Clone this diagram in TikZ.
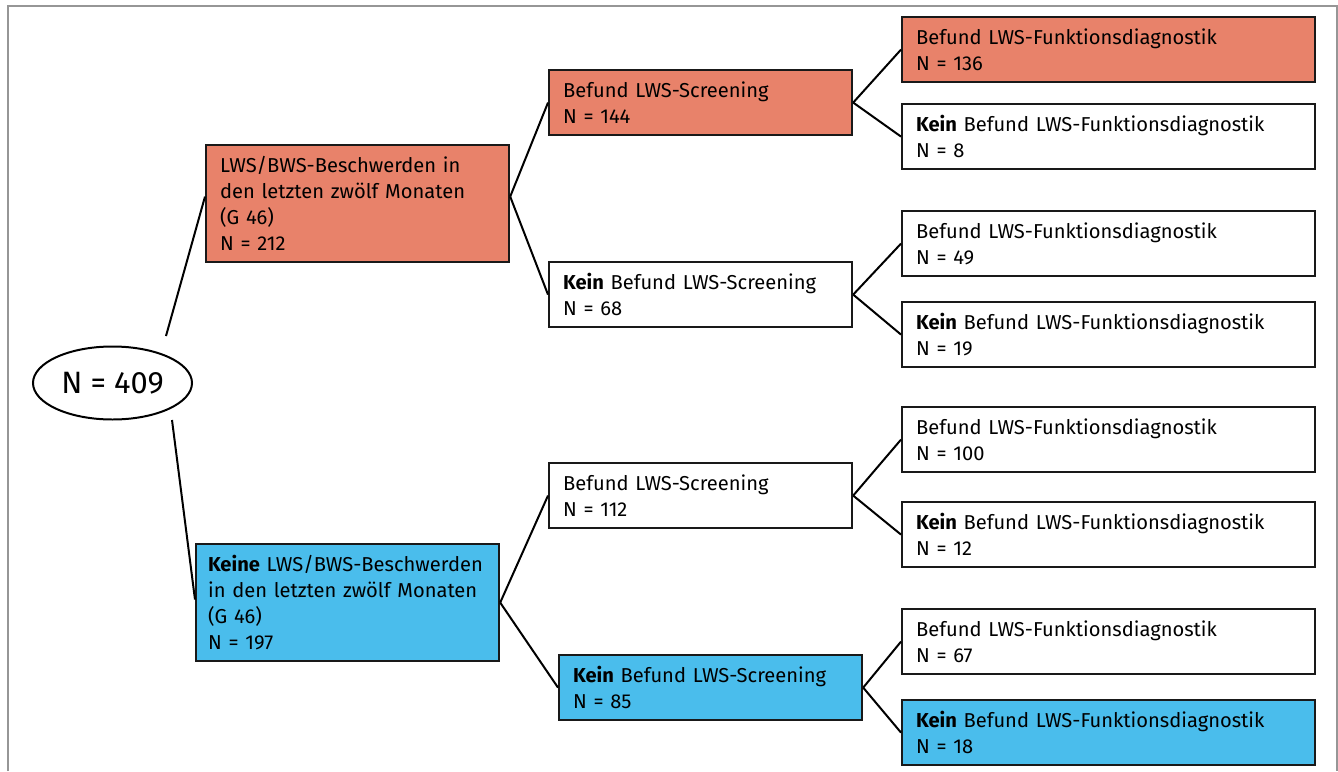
\documentclass[tikz,border=0pt]{standalone}
\usepackage{fontspec}
\setmainfont{Fira Sans}
\usetikzlibrary{shapes.geometric}
\definecolor{lwsred}{RGB}{232,130,106}
\definecolor{lwsblue}{RGB}{74,189,236}
\definecolor{framegray}{RGB}{150,150,150}
\begin{document}
\begin{tikzpicture}[x=1bp,y=-1bp,
  box/.style={draw=black!90, line width=2.2pt, inner xsep=14bp, inner ysep=0pt,
    align=left, anchor=north west, font=\fontsize{20.2}{26}\selectfont},
  leftbox/.style={box, text width=275bp, minimum height=117bp},
  midbox/.style={box, text width=275bp, minimum height=65bp},
  rightbox/.style={box, text width=385bp, minimum height=65bp},
  conn/.style={line width=2pt, black},
  frame/.style={framegray, line width=1.5pt}]
\useasboundingbox (0,0) rectangle (1338,771);
\draw[frame] (8,771) -- (8,6) -- (1337,6) -- (1337,771);

\node[draw, ellipse, line width=2pt, minimum width=159bp, minimum height=73bp,
  inner sep=0pt, font=\fontsize{31}{33}\selectfont] (root) at (112.5,383) {N = 409};
\coordinate (ru) at (166,336);
\coordinate (rd) at (172,420);

\node[leftbox, fill=lwsred] (l1) at (205,144) {LWS/BWS-Beschwerden in\\den letzten zwölf Monaten\\(G 46)\\N = 212};
\node[leftbox, fill=lwsblue, inner xsep=12bp, text width=279bp] (l2) at (195,543) {\mbox{\textbf{Keine} LWS/BWS-Beschwerden}\\in den letzten zwölf Monaten\\(G 46)\\N = 197};

\node[midbox, fill=lwsred] (m1) at (548,69) {Befund LWS-Screening\\N = 144};
\node[midbox, fill=white] (m2) at (548,261) {\textbf{Kein} Befund LWS-Screening\\N = 68};
\node[midbox, fill=white] (m3) at (548,462) {Befund LWS-Screening\\N = 112};
\node[midbox, fill=lwsblue] (m4) at (558,654) {\textbf{Kein} Befund LWS-Screening\\N = 85};

\node[rightbox, fill=lwsred] (r1) at (901,16) {Befund LWS-Funktionsdiagnostik\\N = 136};
\node[rightbox, fill=white] (r2) at (901,103) {\textbf{Kein} Befund LWS-Funktionsdiagnostik\\N = 8};
\node[rightbox, fill=white] (r3) at (901,210) {Befund LWS-Funktionsdiagnostik\\N = 49};
\node[rightbox, fill=white] (r4) at (901,301) {\textbf{Kein} Befund LWS-Funktionsdiagnostik\\N = 19};
\node[rightbox, fill=white] (r5) at (901,406) {Befund LWS-Funktionsdiagnostik\\N = 100};
\node[rightbox, fill=white] (r6) at (901,501) {\textbf{Kein} Befund LWS-Funktionsdiagnostik\\N = 12};
\node[rightbox, fill=white] (r7) at (901,608) {Befund LWS-Funktionsdiagnostik\\N = 67};
\node[rightbox, fill=lwsblue] (r8) at (901,699) {\textbf{Kein} Befund LWS-Funktionsdiagnostik\\N = 18};

\draw[conn] (ru) -- ([yshift=7bp]l1.west);
\draw[conn] (rd) -- ([yshift=3bp]l2.west);
\draw[conn] ([yshift=7bp]l1.east) -- (m1.west);
\draw[conn] ([yshift=7bp]l1.east) -- (m2.west);
\draw[conn] (l2.east) -- (m3.west);
\draw[conn] (l2.east) -- (m4.west);
\draw[conn] (m1.east) -- (r1.west);
\draw[conn] (m1.east) -- (r2.west);
\draw[conn] (m2.east) -- (r3.west);
\draw[conn] (m2.east) -- (r4.west);
\draw[conn] (m3.east) -- (r5.west);
\draw[conn] (m3.east) -- (r6.west);
\draw[conn] (m4.east) -- (r7.west);
\draw[conn] (m4.east) -- (r8.west);
\end{tikzpicture}
\end{document}
